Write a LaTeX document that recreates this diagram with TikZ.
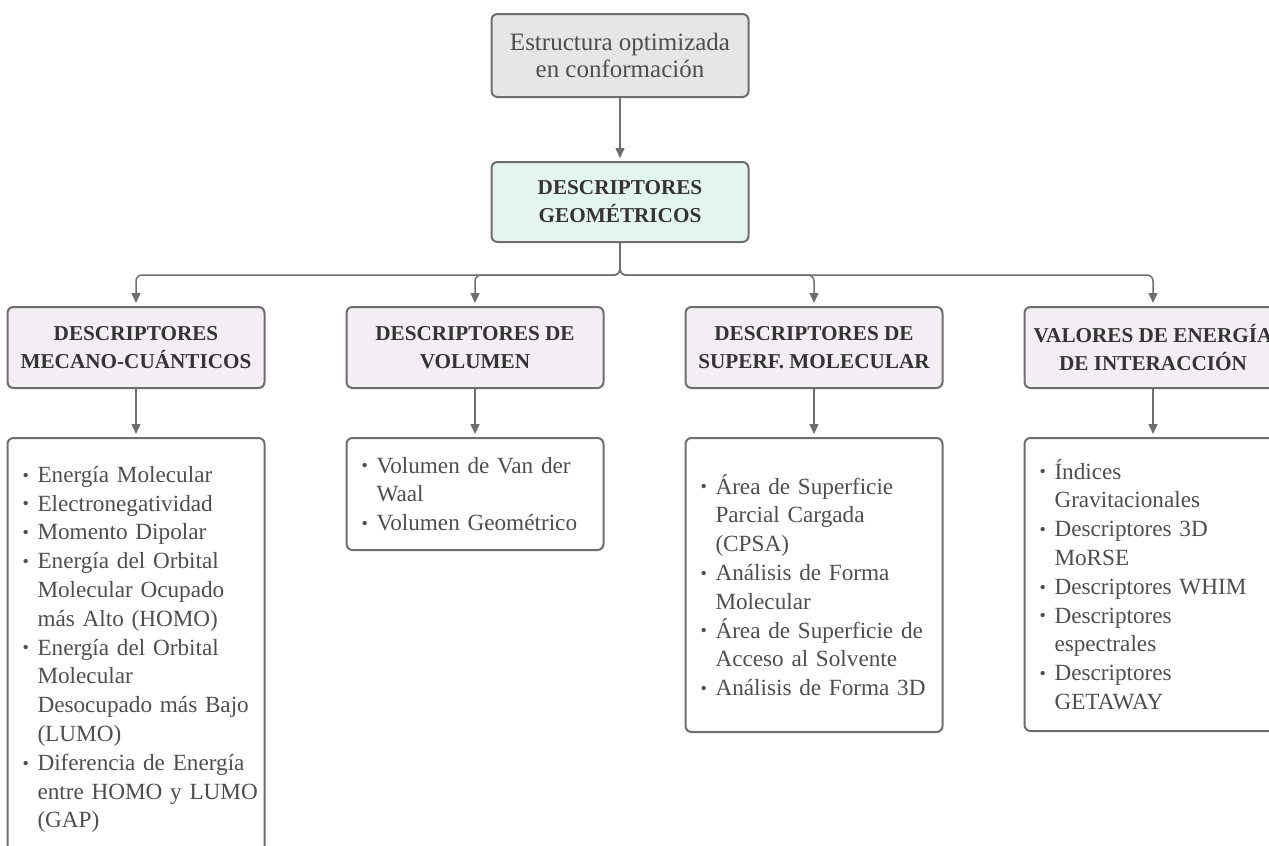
\documentclass[tikz,border=0pt]{standalone}
\usepackage{fontspec}
\setmainfont{Liberation Serif}
\usepackage{tikz}
\usetikzlibrary{arrows.meta, positioning}
\definecolor{ink}{HTML}{343434}
\definecolor{softink}{HTML}{4E4E4E}
\definecolor{edge}{HTML}{6E6E6E}
\definecolor{rootfill}{HTML}{E6E6E6}
\definecolor{geofill}{HTML}{E3F4F1}
\definecolor{catfill}{HTML}{F3EEF4}
\newcommand{\itm}[1]{\mbox{\makebox[7.5pt][l]{\raisebox{0.6pt}{\small\textbullet}}#1}}
\newcommand{\cnt}[1]{\mbox{\hspace*{7.5pt}#1}}
\tikzset{
  box/.style={draw=edge, line width=1pt, rounded corners=3pt, align=center,
              minimum width=128.5pt, inner sep=0pt},
  rootbox/.style={box, fill=rootfill, minimum height=41.5pt, text=softink,
                  font=\fontsize{12.5}{13.6}\selectfont},
  geobox/.style={box, fill=geofill, minimum height=40pt, text=ink,
                 font=\bfseries\fontsize{10.6}{14}\selectfont},
  catbox/.style={box, fill=catfill, minimum height=40.5pt, text=ink,
                 font=\bfseries\fontsize{10.6}{14}\selectfont},
  listbox/.style={box, fill=white, align=left, text width=113.5pt, inner xsep=7.5pt,
                  text=softink, font=\fontsize{11.6}{14.4}\selectfont},
  link/.style={-{Triangle[length=5pt, width=4.5pt]}, line width=0.75pt, edge,
               shorten >=1.5pt, rounded corners=3pt},
}

\begin{document}
\begin{tikzpicture}[node distance=31.5pt and 40pt]
  \clip (0,0) rectangle (634.5pt,-423pt);

  % ---- Root ----
  \node[rootbox] (opt) at (310pt,-27.75pt) {Estructura optimizada\\en conformación};
  \node[geobox, below=of opt] (geo) {DESCRIPTORES\\GEOMÉTRICOS};
  \coordinate[below=16pt of geo] (hub);

  % ---- Categories ----
  \node[catbox, below=of geo, xshift=-72.5pt] (vol) {DESCRIPTORES DE\\VOLUMEN};
  \node[catbox, left=of vol] (mech) {DESCRIPTORES\\MECANO-CUÁNTICOS};
  \node[catbox, right=of vol] (surf) {DESCRIPTORES DE\\SUPERF. MOLECULAR};
  \node[catbox, right=of surf] (ener) {VALORES DE ENERGÍA\\DE INTERACCIÓN};

  % ---- Lists ----
  \node[listbox, below=24pt of mech, minimum height=211.5pt] (mechlist)
    {\itm{Energía Molecular}\\
     \itm{Electronegatividad}\\
     \itm{Momento Dipolar}\\
     \itm{Energía del Orbital}\\
     \cnt{Molecular Ocupado}\\
     \cnt{más Alto (HOMO)}\\
     \itm{Energía del Orbital}\\
     \cnt{Molecular}\\
     \cnt{Desocupado más Bajo}\\
     \cnt{(LUMO)}\\
     \itm{Diferencia de Energía}\\
     \cnt{entre HOMO y LUMO}\\
     \cnt{(GAP)}};
  \node[listbox, below=24pt of vol, minimum height=56pt] (vollist)
    {\itm{Volumen de Van der}\\
     \cnt{Waal}\\
     \itm{Volumen Geométrico}};
  \node[listbox, below=24pt of surf, minimum height=147pt] (surflist)
    {\itm{Área de Superficie}\\
     \cnt{Parcial Cargada}\\
     \cnt{(CPSA)}\\
     \itm{Análisis de Forma}\\
     \cnt{Molecular}\\
     \itm{Área de Superficie de}\\
     \cnt{Acceso al Solvente}\\
     \itm{Análisis de Forma 3D}};
  \node[listbox, below=24pt of ener, minimum height=146.5pt] (enerlist)
    {\itm{Índices}\\
     \cnt{Gravitacionales}\\
     \itm{Descriptores 3D}\\
     \cnt{MoRSE}\\
     \itm{Descriptores WHIM}\\
     \itm{Descriptores}\\
     \cnt{espectrales}\\
     \itm{Descriptores}\\
     \cnt{GETAWAY}};

  % ---- Edges ----
  \draw[link] (opt) -- (geo);
  \foreach \c in {mech, vol, surf, ener} {
    \draw[link] (geo.south) -- (hub) -| (\c);
    \draw[link] (\c) -- (\c list);
  }
\end{tikzpicture}
\end{document}
